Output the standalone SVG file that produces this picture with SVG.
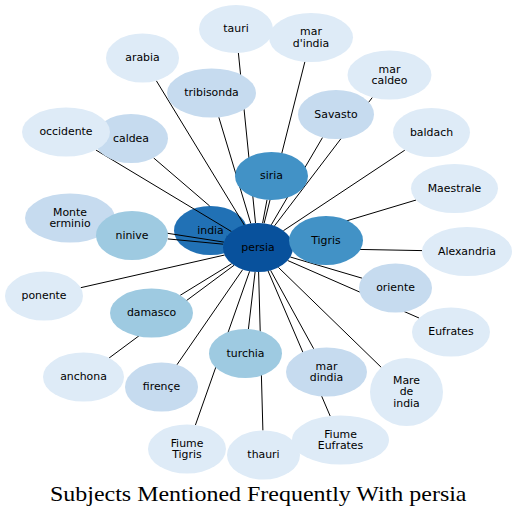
<svg xmlns="http://www.w3.org/2000/svg" width="517" height="515" viewBox="0 0 517 515">
<style>
.node text{font-family:"DejaVu Sans",Verdana,sans-serif;font-size:10.9px;text-anchor:middle;fill:#000}
.node ellipse{stroke:none}
.l0{fill:#deebf7}.l1{fill:#c6dbef}.l2{fill:#9ecae1}.l3{fill:#4292c6}.l4{fill:#2171b5}.l5{fill:#08519c}
#connectors line{stroke:#000;stroke-width:1;fill:none}
.title{font-family:"Liberation Serif","Times New Roman",serif;font-size:21.5px;fill:#000}
</style>
<rect width="517" height="515" fill="#fff"/>
<g id="node-india" class="node"><ellipse class="l4" cx="210.5" cy="230.5" rx="36.5" ry="24.5"/><text x="210.5" y="233.9">india</text></g>
<g id="connectors">
<line x1="255.5" y1="223.0" x2="238.4" y2="53.0"/>
<line x1="264.1" y1="223.4" x2="304.9" y2="61.7"/>
<line x1="244.3" y1="225.0" x2="156.3" y2="80.7"/>
<line x1="274.5" y1="225.9" x2="372.4" y2="97.4"/>
<line x1="250.8" y1="223.5" x2="218.8" y2="117.2"/>
<line x1="271.3" y1="224.8" x2="322.6" y2="137.4"/>
<line x1="283.4" y1="230.7" x2="404.8" y2="150.2"/>
<line x1="231.4" y1="231.5" x2="95.9" y2="150.0"/>
<line x1="209.7" y1="206.0" x2="153.6" y2="157.9"/>
<line x1="262.6" y1="223.2" x2="267.0" y2="199.8"/>
<line x1="290.2" y1="237.8" x2="416.1" y2="200.0"/>
<line x1="223.9" y1="242.1" x2="113.2" y2="224.8"/>
<line x1="223.3" y1="244.2" x2="167.7" y2="238.9"/>
<line x1="226.8" y1="236.3" x2="242.7" y2="242.0"/>
<line x1="292.6" y1="243.9" x2="289.4" y2="244.3"/>
<line x1="293.0" y1="248.2" x2="422.0" y2="250.6"/>
<line x1="224.7" y1="255.0" x2="80.7" y2="287.7"/>
<line x1="290.3" y1="257.0" x2="362.1" y2="278.2"/>
<line x1="231.7" y1="263.7" x2="180.2" y2="295.3"/>
<line x1="287.7" y1="260.5" x2="419.0" y2="318.0"/>
<line x1="255.1" y1="271.9" x2="248.4" y2="329.1"/>
<line x1="234.0" y1="265.3" x2="109.1" y2="358.0"/>
<line x1="242.7" y1="269.6" x2="176.9" y2="364.8"/>
<line x1="270.6" y1="270.4" x2="313.7" y2="348.8"/>
<line x1="278.4" y1="267.4" x2="381.3" y2="367.4"/>
<line x1="249.6" y1="271.3" x2="195.4" y2="425.1"/>
<line x1="258.6" y1="272.0" x2="262.9" y2="430.5"/>
<line x1="268.1" y1="271.0" x2="330.2" y2="416.1"/>
</g>
<g id="node-tauri" class="node"><ellipse class="l0" cx="236" cy="29" rx="37" ry="24"/><text x="236" y="32.4">tauri</text></g>
<g id="node-mar-d-india" class="node"><ellipse class="l0" cx="311" cy="37.5" rx="42" ry="24.5"/><text x="311" y="35"><tspan x="311">mar</tspan><tspan x="311" dy="11.8">d'india</tspan></text></g>
<g id="node-arabia" class="node"><ellipse class="l0" cx="142.5" cy="58" rx="36.5" ry="24.5"/><text x="142.5" y="61.4">arabia</text></g>
<g id="node-mar-caldeo" class="node"><ellipse class="l0" cx="389.5" cy="75" rx="42" ry="24.5"/><text x="389.5" y="72.5"><tspan x="389.5">mar</tspan><tspan x="389.5" dy="11.8">caldeo</tspan></text></g>
<g id="node-tribisonda" class="node"><ellipse class="l1" cx="211.5" cy="93" rx="44.5" ry="24.5"/><text x="211.5" y="96.4">tribisonda</text></g>
<g id="node-Savasto" class="node"><ellipse class="l1" cx="336" cy="114.5" rx="38" ry="24.5"/><text x="336" y="117.9">Savasto</text></g>
<g id="node-baldach" class="node"><ellipse class="l0" cx="431.5" cy="132.5" rx="38.5" ry="24.5"/><text x="431.5" y="135.9">baldach</text></g>
<g id="node-caldea" class="node"><ellipse class="l1" cx="131" cy="138.5" rx="37" ry="24.5"/><text x="131" y="141.9">caldea</text></g>
<g id="node-occidente" class="node"><ellipse class="l0" cx="66" cy="132" rx="44" ry="24.5"/><text x="66" y="135.4">occidente</text></g>
<g id="node-siria" class="node"><ellipse class="l3" cx="271.5" cy="176" rx="36.5" ry="24"/><text x="271.5" y="179.4">siria</text></g>
<g id="node-Maestrale" class="node"><ellipse class="l0" cx="454.5" cy="188.5" rx="43.5" ry="24.5"/><text x="454.5" y="191.9">Maestrale</text></g>
<g id="node-Monte-erminio" class="node"><ellipse class="l1" cx="70" cy="218" rx="45" ry="24.5"/><text x="70" y="215.5"><tspan x="70">Monte</tspan><tspan x="70" dy="11.8">erminio</tspan></text></g>
<g id="node-ninive" class="node"><ellipse class="l2" cx="132" cy="235.5" rx="36" ry="24.5"/><text x="132" y="238.9">ninive</text></g>
<g id="node-persia" class="node"><ellipse class="l5" cx="258" cy="247.5" rx="35" ry="24.5"/><text x="258" y="250.9">persia</text></g>
<g id="node-Tigris" class="node"><ellipse class="l3" cx="326" cy="240.5" rx="37" ry="24.5"/><text x="326" y="243.9">Tigris</text></g>
<g id="node-Alexandria" class="node"><ellipse class="l0" cx="467" cy="251.5" rx="45" ry="24.5"/><text x="467" y="254.9">Alexandria</text></g>
<g id="node-ponente" class="node"><ellipse class="l0" cx="44" cy="296" rx="39" ry="24.5"/><text x="44" y="299.4">ponente</text></g>
<g id="node-oriente" class="node"><ellipse class="l1" cx="395.5" cy="288" rx="36.5" ry="24.5"/><text x="395.5" y="291.4">oriente</text></g>
<g id="node-damasco" class="node"><ellipse class="l2" cx="151.5" cy="313" rx="41.5" ry="24.5"/><text x="151.5" y="316.4">damasco</text></g>
<g id="node-Eufrates" class="node"><ellipse class="l0" cx="451" cy="332" rx="39" ry="24.5"/><text x="451" y="335.4">Eufrates</text></g>
<g id="node-turchia" class="node"><ellipse class="l2" cx="245.5" cy="353.5" rx="36.5" ry="24.5"/><text x="245.5" y="356.9">turchia</text></g>
<g id="node-anchona" class="node"><ellipse class="l0" cx="83.5" cy="377" rx="40.5" ry="24.5"/><text x="83.5" y="380.4">anchona</text></g>
<g id="node-firence" class="node"><ellipse class="l1" cx="161.5" cy="387" rx="36.5" ry="24.5"/><text x="161.5" y="390.4">firençe</text></g>
<g id="node-mar-dindia" class="node"><ellipse class="l1" cx="326.5" cy="372" rx="40.5" ry="24.5"/><text x="326.5" y="369.5"><tspan x="326.5">mar</tspan><tspan x="326.5" dy="11.8">dindia</tspan></text></g>
<g id="node-Mare-de-india" class="node"><ellipse class="l0" cx="406.5" cy="392" rx="36.5" ry="34"/><text x="406.5" y="383.6"><tspan x="406.5">Mare</tspan><tspan x="406.5" dy="11.8">de</tspan><tspan x="406.5" dy="11.8">india</tspan></text></g>
<g id="node-Fiume-Tigris" class="node"><ellipse class="l0" cx="187" cy="449" rx="39" ry="24.5"/><text x="187" y="446.5"><tspan x="187">Fiume</tspan><tspan x="187" dy="11.8">Tigris</tspan></text></g>
<g id="node-thauri" class="node"><ellipse class="l0" cx="263.5" cy="455" rx="36.5" ry="24.5"/><text x="263.5" y="458.4">thauri</text></g>
<g id="node-Fiume-Eufrates" class="node"><ellipse class="l0" cx="340.5" cy="440" rx="48.5" ry="24.5"/><text x="340.5" y="437.5"><tspan x="340.5">Fiume</tspan><tspan x="340.5" dy="11.8">Eufrates</tspan></text></g>
<text class="title" x="50" y="500.5" textLength="416.5" lengthAdjust="spacingAndGlyphs">Subjects Mentioned Frequently With persia</text>
</svg>
